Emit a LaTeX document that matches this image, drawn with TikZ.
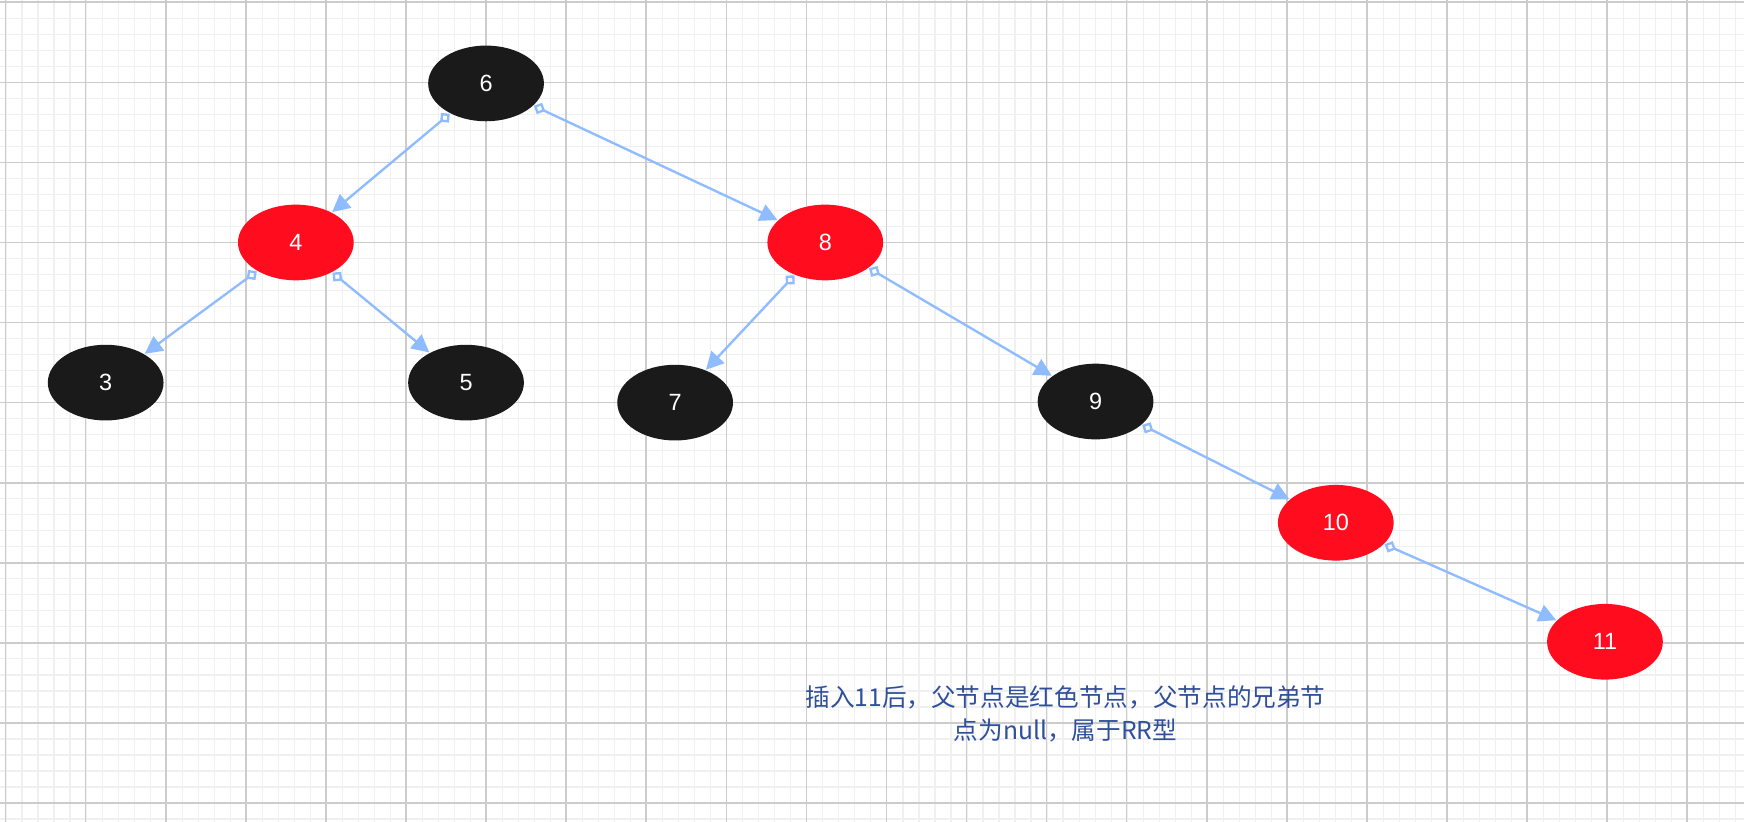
\documentclass[tikz,border=0pt]{standalone}
\usepackage{fontspec}
\setmainfont{Liberation Sans}
\newfontfamily\cjk{Noto Sans CJK SC}
\usetikzlibrary{arrows.meta,shapes.geometric}
\definecolor{nodered}{HTML}{FF0D1E}
\definecolor{nodeblack}{HTML}{1A1A1A}
\definecolor{edgeblue}{HTML}{8FBCFF}
\definecolor{noteblue}{HTML}{2F4F9C}
\begin{document}
\begin{tikzpicture}[x=0.01cm,y=-0.01cm]
  \tikzstyle{rb}=[ellipse,minimum width=1.04cm,minimum height=0.68cm,inner sep=0pt,text=white,font=\fontsize{6}{6}\selectfont]
  \tikzstyle{blknode}=[rb,fill=nodeblack]
  \tikzstyle{rednode}=[rb,fill=nodered]
  \tikzstyle{link}=[edgeblue,line width=0.6pt,{Diamond[open,length=3.2pt,width=3.2pt]}-{Triangle[length=4.5pt,width=4.5pt]}]
  \useasboundingbox (0,0) rectangle (1568,739);
  \fill[white] (0,0) rectangle (1568,739);
  % grid
  \foreach \x in {5.4,19.8,...,1568} \draw[black!6,line width=0.3pt] (\x,0) -- (\x,739);
  \foreach \y in {2,16.4,...,739} \draw[black!6,line width=0.3pt] (0,\y) -- (1568,\y);
  \foreach \x in {5,77,...,1568} \draw[black!20,line width=0.4pt] (\x,0) -- (\x,739);
  \foreach \y in {2,74,...,739} \draw[black!20,line width=0.4pt] (0,\y) -- (1568,\y);
  % tree
  \node[blknode] (n6) at (437,75) {6};
  \node[rednode] (n4) at (266,218) {4};
  \node[rednode] (n8) at (742,218) {8};
  \node[blknode] (n3) at (95,344) {3};
  \node[blknode] (n5) at (419,344) {5};
  \node[blknode] (n7) at (607,362) {7};
  \node[blknode] (n9) at (985,361) {9};
  \node[rednode] (n10) at (1201,470) {10};
  \node[rednode] (n11) at (1443,577) {11};
  \draw[link] (n6) -- (n4);
  \draw[link] (n6) -- (n8);
  \draw[link] (n4) -- (n3);
  \draw[link] (n4) -- (n5);
  \draw[link] (n8) -- (n7);
  \draw[link] (n8) -- (n9);
  \draw[link] (n9) -- (n10);
  \draw[link] (n10) -- (n11);
  \node[text=noteblue,font=\cjk\fontsize{6.3}{8.3}\selectfont,align=center] (note) at (958,642)
    {插入11后，父节点是红色节点，父节点的兄弟节\\点为null，属于RR型};
\end{tikzpicture}
\end{document}
